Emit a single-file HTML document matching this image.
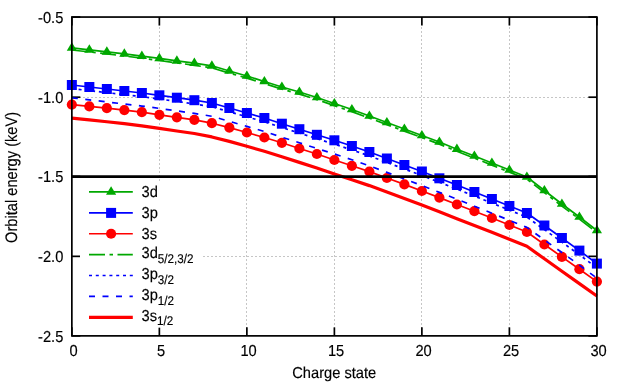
<!DOCTYPE html><html><head><meta charset="utf-8"><style>html,body{margin:0;padding:0;background:#fff}svg{display:block}text{font-family:"Liberation Sans",sans-serif;fill:#000;text-rendering:geometricPrecision;stroke:#000;stroke-width:0.15px}</style></head><body>
<svg width="623" height="383" viewBox="0 0 623 383" style="will-change:transform">
<rect width="623" height="383" fill="#fff"/>
<g stroke="#c6c6c6" stroke-width="1" stroke-dasharray="2 2" fill="none"><line x1="159.50" y1="19" x2="159.50" y2="335.87"/><line x1="246.50" y1="19" x2="246.50" y2="335.87"/><line x1="334.50" y1="19" x2="334.50" y2="335.87"/><line x1="421.50" y1="19" x2="421.50" y2="335.87"/><line x1="509.50" y1="19" x2="509.50" y2="335.87"/><line x1="71" y1="97.50" x2="596.9" y2="97.50"/><line x1="71" y1="176.50" x2="596.9" y2="176.50"/><line x1="71" y1="256.50" x2="596.9" y2="256.50"/></g>
<g stroke="#000" stroke-width="1.7" fill="none"><line x1="71.85" y1="335.87" x2="71.85" y2="327.37"/><line x1="71.85" y1="17.05" x2="71.85" y2="25.55"/><line x1="159.36" y1="335.87" x2="159.36" y2="327.37"/><line x1="159.36" y1="17.05" x2="159.36" y2="25.55"/><line x1="246.87" y1="335.87" x2="246.87" y2="327.37"/><line x1="246.87" y1="17.05" x2="246.87" y2="25.55"/><line x1="334.38" y1="335.87" x2="334.38" y2="327.37"/><line x1="334.38" y1="17.05" x2="334.38" y2="25.55"/><line x1="421.88" y1="335.87" x2="421.88" y2="327.37"/><line x1="421.88" y1="17.05" x2="421.88" y2="25.55"/><line x1="509.39" y1="335.87" x2="509.39" y2="327.37"/><line x1="509.39" y1="17.05" x2="509.39" y2="25.55"/><line x1="596.90" y1="335.87" x2="596.90" y2="327.37"/><line x1="596.90" y1="17.05" x2="596.90" y2="25.55"/><line x1="71.85" y1="17.05" x2="80.35" y2="17.05"/><line x1="596.9" y1="17.05" x2="588.4" y2="17.05"/><line x1="71.85" y1="97.20" x2="80.35" y2="97.20"/><line x1="596.9" y1="97.20" x2="588.4" y2="97.20"/><line x1="71.85" y1="176.46" x2="80.35" y2="176.46"/><line x1="596.9" y1="176.46" x2="588.4" y2="176.46"/><line x1="71.85" y1="256.35" x2="80.35" y2="256.35"/><line x1="596.9" y1="256.35" x2="588.4" y2="256.35"/><line x1="71.85" y1="335.87" x2="80.35" y2="335.87"/><line x1="596.9" y1="335.87" x2="588.4" y2="335.87"/></g>
<text transform="translate(73.55,355.9) scale(1,1.08)" font-size="14.67" text-anchor="middle">0</text>
<text transform="translate(161.06,355.9) scale(1,1.08)" font-size="14.67" text-anchor="middle">5</text>
<text transform="translate(248.57,355.9) scale(1,1.08)" font-size="14.67" text-anchor="middle">10</text>
<text transform="translate(336.07,355.9) scale(1,1.08)" font-size="14.67" text-anchor="middle">15</text>
<text transform="translate(423.58,355.9) scale(1,1.08)" font-size="14.67" text-anchor="middle">20</text>
<text transform="translate(511.09,355.9) scale(1,1.08)" font-size="14.67" text-anchor="middle">25</text>
<text transform="translate(598.60,355.9) scale(1,1.08)" font-size="14.67" text-anchor="middle">30</text>
<text transform="translate(63.3,22.95) scale(1,1.08)" font-size="14.67" text-anchor="end">-0.5</text>
<text transform="translate(63.3,103.10) scale(1,1.08)" font-size="14.67" text-anchor="end">-1.0</text>
<text transform="translate(63.3,182.36) scale(1,1.08)" font-size="14.67" text-anchor="end">-1.5</text>
<text transform="translate(63.3,262.25) scale(1,1.08)" font-size="14.67" text-anchor="end">-2.0</text>
<text transform="translate(63.3,341.77) scale(1,1.08)" font-size="14.67" text-anchor="end">-2.5</text>
<text transform="translate(334.2,377.7) scale(1,1.08)" font-size="14.67" text-anchor="middle">Charge state</text>
<text transform="translate(16.5,177.4) rotate(-90) scale(1,1.134)" font-size="14.67" text-anchor="middle">Orbital energy (keV)</text>
<g fill="none" stroke-linejoin="round">
<polyline points="71.85,47.90 89.35,49.80 106.85,51.80 124.35,53.90 141.86,56.10 159.36,58.40 176.86,60.80 194.36,63.20 211.86,65.80 229.36,71.00 246.87,76.00 264.37,81.50 281.87,87.00 299.37,92.00 316.87,97.50 334.38,103.50 351.88,109.50 369.38,116.00 386.88,122.50 404.38,129.00 421.88,135.50 439.38,142.00 456.89,149.20 474.39,156.00 491.89,163.00 509.39,170.00 526.89,177.00 544.39,190.50 561.90,204.00 579.40,217.00 596.90,230.50" stroke="#00a800" stroke-width="1.7"/>
<g fill="#00a800" stroke="none"><path d="M71.85,42.30 L66.75,50.75 L76.95,50.75 Z"/><path d="M89.35,44.20 L84.25,52.65 L94.45,52.65 Z"/><path d="M106.85,46.20 L101.75,54.65 L111.95,54.65 Z"/><path d="M124.35,48.30 L119.25,56.75 L129.45,56.75 Z"/><path d="M141.86,50.50 L136.76,58.95 L146.96,58.95 Z"/><path d="M159.36,52.80 L154.26,61.25 L164.46,61.25 Z"/><path d="M176.86,55.20 L171.76,63.65 L181.96,63.65 Z"/><path d="M194.36,57.60 L189.26,66.05 L199.46,66.05 Z"/><path d="M211.86,60.20 L206.76,68.65 L216.96,68.65 Z"/><path d="M229.36,65.40 L224.26,73.85 L234.46,73.85 Z"/><path d="M246.87,70.40 L241.77,78.85 L251.97,78.85 Z"/><path d="M264.37,75.90 L259.27,84.35 L269.47,84.35 Z"/><path d="M281.87,81.40 L276.77,89.85 L286.97,89.85 Z"/><path d="M299.37,86.40 L294.27,94.85 L304.47,94.85 Z"/><path d="M316.87,91.90 L311.77,100.35 L321.97,100.35 Z"/><path d="M334.38,97.90 L329.27,106.35 L339.48,106.35 Z"/><path d="M351.88,103.90 L346.78,112.35 L356.98,112.35 Z"/><path d="M369.38,110.40 L364.28,118.85 L374.48,118.85 Z"/><path d="M386.88,116.90 L381.78,125.35 L391.98,125.35 Z"/><path d="M404.38,123.40 L399.28,131.85 L409.48,131.85 Z"/><path d="M421.88,129.90 L416.78,138.35 L426.98,138.35 Z"/><path d="M439.38,136.40 L434.28,144.85 L444.49,144.85 Z"/><path d="M456.89,143.60 L451.79,152.05 L461.99,152.05 Z"/><path d="M474.39,150.40 L469.29,158.85 L479.49,158.85 Z"/><path d="M491.89,157.40 L486.79,165.85 L496.99,165.85 Z"/><path d="M509.39,164.40 L504.29,172.85 L514.49,172.85 Z"/><path d="M526.89,171.40 L521.79,179.85 L531.99,179.85 Z"/><path d="M544.39,184.90 L539.29,193.35 L549.50,193.35 Z"/><path d="M561.90,198.40 L556.80,206.85 L567.00,206.85 Z"/><path d="M579.40,211.40 L574.30,219.85 L584.50,219.85 Z"/><path d="M596.90,224.90 L591.80,233.35 L602.00,233.35 Z"/></g>
<polyline points="71.85,85.00 89.35,87.00 106.85,89.00 124.35,91.00 141.86,93.00 159.36,95.30 176.86,97.70 194.36,100.20 211.86,103.00 229.36,108.00 246.87,113.00 264.37,118.00 281.87,123.70 299.37,129.20 316.87,134.80 334.38,140.30 351.88,146.00 369.38,152.00 386.88,158.50 404.38,165.00 421.88,171.50 439.38,178.30 456.89,185.00 474.39,192.00 491.89,199.00 509.39,206.00 526.89,213.00 544.39,225.50 561.90,238.00 579.40,250.60 596.90,263.60" stroke="#0000ff" stroke-width="1.7"/>
<g fill="#0000ff" stroke="none"><rect x="66.85" y="80.00" width="10" height="10"/><rect x="84.35" y="82.00" width="10" height="10"/><rect x="101.85" y="84.00" width="10" height="10"/><rect x="119.35" y="86.00" width="10" height="10"/><rect x="136.86" y="88.00" width="10" height="10"/><rect x="154.36" y="90.30" width="10" height="10"/><rect x="171.86" y="92.70" width="10" height="10"/><rect x="189.36" y="95.20" width="10" height="10"/><rect x="206.86" y="98.00" width="10" height="10"/><rect x="224.36" y="103.00" width="10" height="10"/><rect x="241.87" y="108.00" width="10" height="10"/><rect x="259.37" y="113.00" width="10" height="10"/><rect x="276.87" y="118.70" width="10" height="10"/><rect x="294.37" y="124.20" width="10" height="10"/><rect x="311.87" y="129.80" width="10" height="10"/><rect x="329.38" y="135.30" width="10" height="10"/><rect x="346.88" y="141.00" width="10" height="10"/><rect x="364.38" y="147.00" width="10" height="10"/><rect x="381.88" y="153.50" width="10" height="10"/><rect x="399.38" y="160.00" width="10" height="10"/><rect x="416.88" y="166.50" width="10" height="10"/><rect x="434.38" y="173.30" width="10" height="10"/><rect x="451.89" y="180.00" width="10" height="10"/><rect x="469.39" y="187.00" width="10" height="10"/><rect x="486.89" y="194.00" width="10" height="10"/><rect x="504.39" y="201.00" width="10" height="10"/><rect x="521.89" y="208.00" width="10" height="10"/><rect x="539.39" y="220.50" width="10" height="10"/><rect x="556.90" y="233.00" width="10" height="10"/><rect x="574.40" y="245.60" width="10" height="10"/><rect x="591.90" y="258.60" width="10" height="10"/></g>
<polyline points="71.85,104.60 89.35,106.40 106.85,108.20 124.35,110.10 141.86,112.20 159.36,114.80 176.86,117.30 194.36,119.80 211.86,123.20 229.36,127.60 246.87,132.50 264.37,137.50 281.87,142.80 299.37,148.50 316.87,154.00 334.38,160.00 351.88,165.80 369.38,171.60 386.88,178.00 404.38,184.40 421.88,191.00 439.38,197.60 456.89,204.50 474.39,211.20 491.89,218.00 509.39,225.00 526.89,232.00 544.39,244.50 561.90,256.90 579.40,269.20 596.90,281.60" stroke="#ff0000" stroke-width="1.7"/>
<g fill="#ff0000" stroke="none"><circle cx="71.85" cy="104.60" r="5.1"/><circle cx="89.35" cy="106.40" r="5.1"/><circle cx="106.85" cy="108.20" r="5.1"/><circle cx="124.35" cy="110.10" r="5.1"/><circle cx="141.86" cy="112.20" r="5.1"/><circle cx="159.36" cy="114.80" r="5.1"/><circle cx="176.86" cy="117.30" r="5.1"/><circle cx="194.36" cy="119.80" r="5.1"/><circle cx="211.86" cy="123.20" r="5.1"/><circle cx="229.36" cy="127.60" r="5.1"/><circle cx="246.87" cy="132.50" r="5.1"/><circle cx="264.37" cy="137.50" r="5.1"/><circle cx="281.87" cy="142.80" r="5.1"/><circle cx="299.37" cy="148.50" r="5.1"/><circle cx="316.87" cy="154.00" r="5.1"/><circle cx="334.38" cy="160.00" r="5.1"/><circle cx="351.88" cy="165.80" r="5.1"/><circle cx="369.38" cy="171.60" r="5.1"/><circle cx="386.88" cy="178.00" r="5.1"/><circle cx="404.38" cy="184.40" r="5.1"/><circle cx="421.88" cy="191.00" r="5.1"/><circle cx="439.38" cy="197.60" r="5.1"/><circle cx="456.89" cy="204.50" r="5.1"/><circle cx="474.39" cy="211.20" r="5.1"/><circle cx="491.89" cy="218.00" r="5.1"/><circle cx="509.39" cy="225.00" r="5.1"/><circle cx="526.89" cy="232.00" r="5.1"/><circle cx="544.39" cy="244.50" r="5.1"/><circle cx="561.90" cy="256.90" r="5.1"/><circle cx="579.40" cy="269.20" r="5.1"/><circle cx="596.90" cy="281.60" r="5.1"/></g>
<polyline points="71.85,50.00 89.35,51.90 106.85,53.90 124.35,56.00 141.86,58.20 159.36,60.50 176.86,62.90 194.36,65.30 211.86,67.90 229.36,73.10 246.87,78.10 264.37,83.60 281.87,89.10 299.37,94.10 316.87,99.60 334.38,105.60 351.88,111.60 369.38,118.10 386.88,124.60 404.38,131.10 421.88,137.60 439.38,144.10 456.89,151.30 474.39,158.10 491.89,165.10 509.39,172.10 526.89,179.10 544.39,192.60 561.90,206.10 579.40,219.10 596.90,232.60" stroke="#00a800" stroke-width="1.7" stroke-dasharray="16 4.5 3.5 4.5"/>
<polyline points="71.85,88.60 89.35,90.62 106.85,92.64 124.35,94.66 141.86,96.68 159.36,99.00 176.86,101.42 194.36,103.94 211.86,106.76 229.36,111.78 246.87,116.80 264.37,121.82 281.87,127.54 299.37,133.06 316.87,138.68 334.38,144.20 351.88,149.92 369.38,155.94 386.88,162.46 404.38,168.98 421.88,175.50 439.38,182.32 456.89,189.04 474.39,196.06 491.89,203.08 509.39,210.10 526.89,217.12 544.39,229.64 561.90,242.16 579.40,254.78 596.90,267.80" stroke="#0000ff" stroke-width="1.7" stroke-dasharray="3 3.8"/>
<polyline points="71.85,97.80 89.35,99.86 106.85,101.92 124.35,103.98 141.86,106.04 159.36,108.40 176.86,110.86 194.36,113.42 211.86,116.28 229.36,121.34 246.87,126.40 264.37,131.46 281.87,137.22 299.37,142.78 316.87,148.44 334.38,154.00 351.88,159.76 369.38,165.82 386.88,172.38 404.38,178.94 421.88,185.50 439.38,192.36 456.89,199.12 474.39,206.18 491.89,213.24 509.39,220.30 526.89,227.36 544.39,239.92 561.90,252.48 579.40,265.14 596.90,278.20" stroke="#0000ff" stroke-width="1.7" stroke-dasharray="6 7.5"/>
<polyline points="71.85,118.10 89.35,119.93 106.85,121.76 124.35,123.69 141.86,125.82 159.36,128.45 176.86,130.98 194.36,133.51 211.86,136.94 229.36,141.37 246.87,146.30 264.37,151.33 281.87,156.66 299.37,162.39 316.87,167.92 334.38,173.95 351.88,179.78 369.38,185.61 386.88,192.04 404.38,198.47 421.88,205.10 439.38,211.73 456.89,218.66 474.39,225.39 491.89,232.22 509.39,239.25 526.89,246.28 544.39,258.81 561.90,271.24 579.40,283.57 596.90,296.00" stroke="#ff0000" stroke-width="3.2"/>
<line x1="71.85" y1="176.55" x2="596.9" y2="176.55" stroke="#000" stroke-width="2.7"/>
</g>
<rect x="80" y="181" width="122" height="146.5" fill="#fff"/>
<line x1="89" y1="191.9" x2="132.8" y2="191.9" stroke="#00a800" stroke-width="1.7"/>
<g fill="#00a800"><path d="M111.10,186.30 L106.00,194.75 L116.20,194.75 Z"/></g>
<line x1="89" y1="212.9" x2="132.8" y2="212.9" stroke="#0000ff" stroke-width="1.7"/>
<g fill="#0000ff"><rect x="106.10" y="207.90" width="10" height="10"/></g>
<line x1="89" y1="233.75" x2="132.8" y2="233.75" stroke="#ff0000" stroke-width="1.7"/>
<g fill="#ff0000"><circle cx="111.10" cy="233.75" r="5.1"/></g>
<line x1="89" y1="254.6" x2="132.8" y2="254.6" stroke="#00a800" stroke-width="1.7" stroke-dasharray="16 4.5 3.5 4.5"/>
<line x1="89" y1="275.5" x2="132.8" y2="275.5" stroke="#0000ff" stroke-width="1.7" stroke-dasharray="3 3.8"/>
<line x1="89" y1="296.4" x2="132.8" y2="296.4" stroke="#0000ff" stroke-width="1.7" stroke-dasharray="6 7.5"/>
<line x1="89" y1="317.3" x2="132.8" y2="317.3" stroke="#ff0000" stroke-width="3.2"/>
<text transform="translate(141.5,197.20) scale(1,1.08)" font-size="14.67">3d</text>
<text transform="translate(141.5,218.20) scale(1,1.08)" font-size="14.67">3p</text>
<text transform="translate(141.5,239.05) scale(1,1.08)" font-size="14.67">3s</text>
<text transform="translate(141.5,258.40) scale(1,1.08)" font-size="14.67">3d<tspan font-size="11.7" dy="4.0">5/2,3/2</tspan></text>
<text transform="translate(141.5,279.30) scale(1,1.08)" font-size="14.67">3p<tspan font-size="11.7" dy="4.0">3/2</tspan></text>
<text transform="translate(141.5,300.20) scale(1,1.08)" font-size="14.67">3p<tspan font-size="11.7" dy="4.0">1/2</tspan></text>
<text transform="translate(141.5,321.10) scale(1,1.08)" font-size="14.67">3s<tspan font-size="11.7" dy="4.0">1/2</tspan></text>
<rect x="71.85" y="17.05" width="525.05" height="318.82" fill="none" stroke="#000" stroke-width="1.7"/>
</svg></body></html>
